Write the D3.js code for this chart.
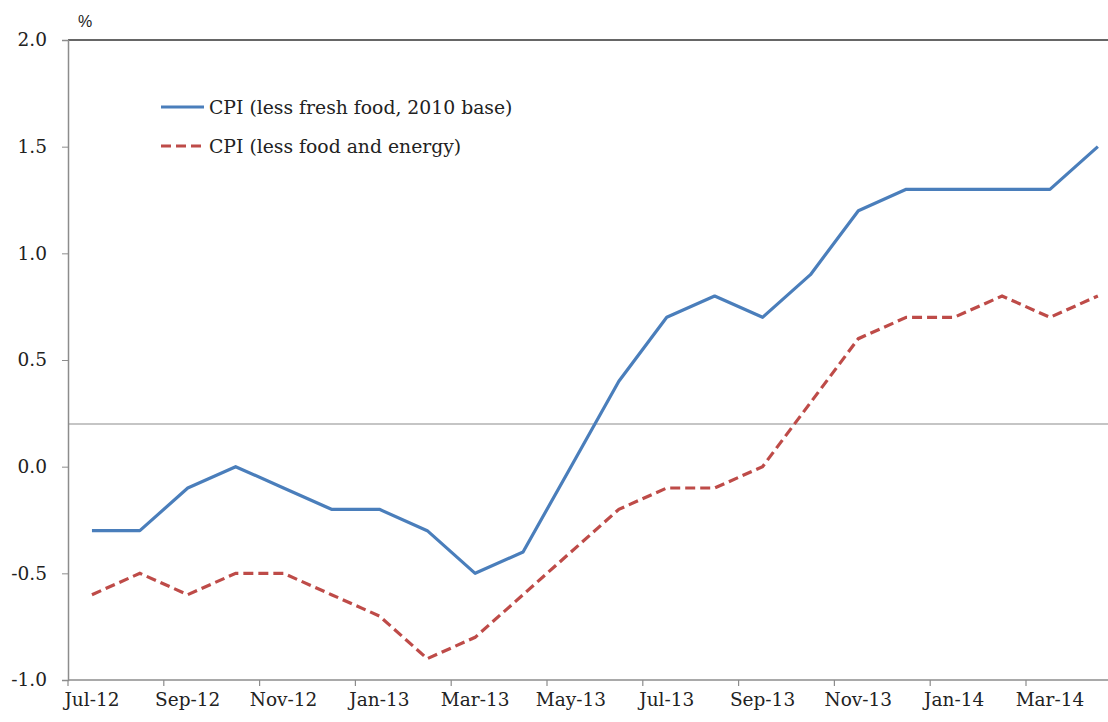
<!DOCTYPE html>
<html>
<head>
<meta charset="utf-8">
<script src="https://cdn.jsdelivr.net/npm/d3@7"></script>
<style>
  body { margin: 0; background: #fff; }
</style>
</head>
<body>
<svg id="canvas"></svg>
<script>
const months = ["Jul-12","Aug-12","Sep-12","Oct-12","Nov-12","Dec-12","Jan-13","Feb-13","Mar-13","Apr-13","May-13","Jun-13",
                "Jul-13","Aug-13","Sep-13","Oct-13","Nov-13","Dec-13","Jan-14","Feb-14","Mar-14","Apr-14"];
const cpiLessFresh = [-0.3,-0.3,-0.1,0.0,-0.1,-0.2,-0.2,-0.3,-0.5,-0.4,0.0,0.4,0.7,0.8,0.7,0.9,1.2,1.3,1.3,1.3,1.3,1.5];
const cpiLessFoodEnergy = [-0.6,-0.5,-0.6,-0.5,-0.5,-0.6,-0.7,-0.9,-0.8,-0.6,-0.4,-0.2,-0.1,-0.1,0.0,0.3,0.6,0.7,0.7,0.8,0.7,0.8];
const yTicks = [-1.0,-0.5,0.0,0.5,1.0,1.5,2.0];
const refLine = 0.2;

const width = 1108, height = 722;
const plotLeft = 68, plotTop = 40, plotBottom = 680;
const bandW = 47.9;
const serif = "DejaVu Serif";
const fs = 18.5;

const svg = d3.select("#canvas")
    .attr("width", width)
    .attr("height", height);

/* Scales */
const x = d3.scaleBand()
    .domain(months)
    .range([plotLeft, plotLeft + bandW * months.length])
    .paddingInner(0).paddingOuter(0);
const y = d3.scaleLinear().domain([-1, 2]).range([plotBottom, plotTop]);
const cx = d => x(d) + x.bandwidth() / 2;

/* Top frame line */
svg.append("line")
    .attr("x1", plotLeft).attr("x2", width)
    .attr("y1", y(2)).attr("y2", y(2))
    .attr("stroke", "#333").attr("stroke-width", 1.5);

/* Reference line */
svg.append("line")
    .attr("x1", plotLeft).attr("x2", width)
    .attr("y1", y(refLine)).attr("y2", y(refLine))
    .attr("stroke", "#8c8c8c").attr("stroke-width", 1.2);

/* Y axis */
const yAxis = svg.append("g")
    .attr("transform", `translate(${plotLeft},0)`)
    .call(d3.axisLeft(y).tickValues(yTicks)
        .tickFormat(d => d3.format(".1f")(d).replace("−", "-"))
        .tickSize(6).tickPadding(15));
yAxis.attr("font-family", serif).attr("font-size", fs);
yAxis.select(".domain").attr("stroke", "#8c8c8c").attr("stroke-width", 1.5);
yAxis.selectAll(".tick line").attr("stroke", "#8c8c8c");
yAxis.selectAll(".tick text").attr("fill", "#222");

/* X axis */
svg.append("line")
    .attr("x1", plotLeft).attr("x2", width)
    .attr("y1", plotBottom).attr("y2", plotBottom)
    .attr("stroke", "#8c8c8c").attr("stroke-width", 1.5);

const labelled = months.filter((m, i) => i % 2 === 0);
svg.append("g").selectAll("line")
    .data(labelled)
    .enter().append("line")
    .attr("x1", d => x(d)).attr("x2", d => x(d))
    .attr("y1", plotBottom).attr("y2", plotBottom + 6)
    .attr("stroke", "#8c8c8c").attr("stroke-width", 1.2);

svg.append("g").selectAll("text")
    .data(labelled)
    .enter().append("text")
    .attr("x", d => cx(d))
    .attr("y", 706)
    .attr("text-anchor", "middle")
    .attr("font-family", serif).attr("font-size", fs)
    .attr("fill", "#222")
    .text(d => d);

/* Unit label */
svg.append("text")
    .attr("x", 78).attr("y", 27)
    .attr("font-family", "Liberation Sans").attr("font-size", 16)
    .attr("fill", "#222")
    .text("%");

/* Lines */
const line = d3.line()
    .x((d, i) => cx(months[i]))
    .y(d => y(d));

svg.append("path")
    .datum(cpiLessFresh)
    .attr("d", line)
    .attr("fill", "none")
    .attr("stroke", "#4a7ebb")
    .attr("stroke-width", 3.2)
    .attr("stroke-linejoin", "round");

svg.append("path")
    .datum(cpiLessFoodEnergy)
    .attr("d", line)
    .attr("fill", "none")
    .attr("stroke", "#be4b48")
    .attr("stroke-width", 3.2)
    .attr("stroke-dasharray", "10,5");

/* Legend */
const legend = [
    { name: "CPI (less fresh food, 2010 base)", color: "#4a7ebb", dash: null, y: 107 },
    { name: "CPI (less food and energy)", color: "#be4b48", dash: "10,5", y: 146 }
];
const lg = svg.append("g").selectAll("g").data(legend).enter().append("g");
lg.append("line")
    .attr("x1", 161).attr("x2", 204)
    .attr("y1", d => d.y).attr("y2", d => d.y)
    .attr("stroke", d => d.color)
    .attr("stroke-width", 3.2)
    .attr("stroke-dasharray", d => d.dash);
lg.append("text")
    .attr("x", 209).attr("y", d => d.y + 7)
    .attr("font-family", serif).attr("font-size", 18.8)
    .attr("fill", "#222")
    .text(d => d.name);
</script>
</body>
</html>
